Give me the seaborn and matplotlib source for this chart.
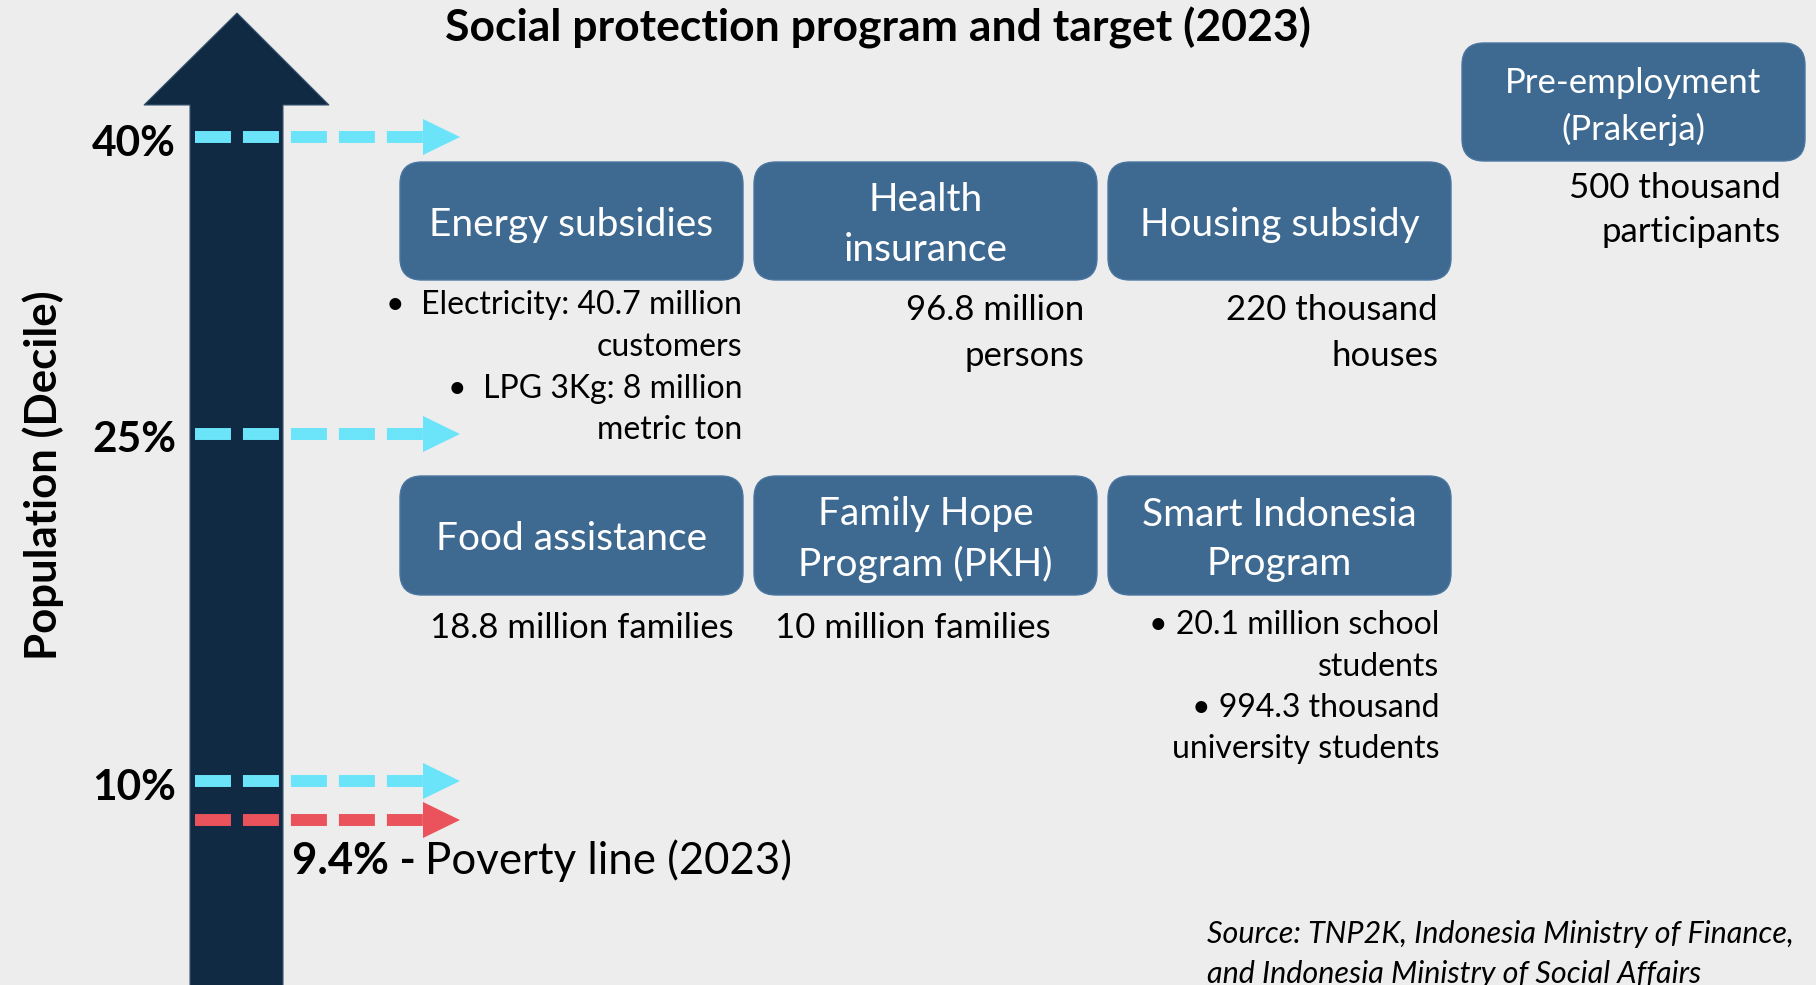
import matplotlib
matplotlib.use("Agg")
import matplotlib.pyplot as plt
from matplotlib.patches import FancyBboxPatch, Polygon
import seaborn as sns
import pandas as pd

# ---------------- data ----------------
title = "Social protection program and target (2023)"
axis_label = "Population (Decile)"
decile_labels = ["40%", "25%", "10%"]
poverty_value = "9.4% -"
poverty_label = "Poverty line (2023)"
programs = ["Energy subsidies", "Health\ninsurance", "Housing subsidy",
            "Food assistance", "Family Hope\nProgram (PKH)", "Smart Indonesia\nProgram",
            "Pre-employment\n(Prakerja)"]
targets = [
    ["•  Electricity: 40.7 million", "customers", "•  LPG 3Kg: 8 million", "metric ton"],
    ["96.8 million", "persons"],
    ["220 thousand", "houses"],
    ["18.8 million families"],
    ["10 million families"],
    ["• 20.1 million school", "students", "• 994.3 thousand", "university students"],
    ["500 thousand", "participants"],
]
source_lines = ["Source: TNP2K, Indonesia Ministry of Finance,",
                "and Indonesia Ministry of Social Affairs"]

# ---------------- layout (pixels) ----------------
W, H = 1816, 985
BG = "#EDEDED"
BOX = "#3E6A91"
DARK = "#102A43"
CYAN = "#6BE4FA"
RED = "#EA535B"

box_x = [400, 754, 1108, 400, 754, 1108, 1462]
box_y = [162, 162, 162, 476, 476, 476, 43]
box_w = 343
box_h = [118, 118, 118, 119, 119, 119, 118]
box_line_gap = [50, 50, 50, 50, 50, 50, 46]
box_fs = [28, 28, 28, 28, 28, 28, 25]
box_text_dy = 4

tgt_anchor = [("right", 742), ("right", 1084), ("right", 1438), ("center", 582),
              ("center", 913), ("right", 1439), ("right", 1781)]
tgt_y0 = [305.5, 310.5, 310.5, 627.5, 627.5, 625.5, 187.5]
tgt_gap = [41.5, 46, 46, 0, 0, 41.3, 45]
tgt_fs = [23, 25, 25, 25, 25, 23, 25]

level_y = [137, 434, 781]
poverty_y = 820
label_y = [144.5, 440.5, 788.5]

sns.set_theme(style="white", rc={"axes.facecolor": BG, "figure.facecolor": BG,
                                 "lines.scale_dashes": False})
plt.rcParams["font.family"] = ["Lato", "DejaVu Sans"]

fig = plt.figure(figsize=(W / 100, H / 100), dpi=100)
ax = fig.add_axes([0, 0, 1, 1])

# big dark arrow
ax.add_patch(Polygon([(190, H + 5), (190, 105), (144, 105), (237, 13), (329, 105),
                      (283, 105), (283, H + 5)], closed=True, facecolor=DARK,
                     edgecolor="#3a5670", linewidth=0.8))

# dashed arrows
def dashed_arrow(y, color):
    df = pd.DataFrame({"x": [195, 423], "y": [y, y]})
    sns.lineplot(data=df, x="x", y="y", ax=ax, color=color, linewidth=8.6,
                 linestyle=(0, (25.9, 8.64)), legend=False)
    ax.add_patch(Polygon([(423, y - 18), (460, y), (423, y + 18)], closed=True,
                         facecolor=color, edgecolor="none"))

for y in level_y:
    dashed_arrow(y, CYAN)
dashed_arrow(poverty_y, RED)
ax.set_xlim(0, W)
ax.set_ylim(H, 0)
ax.axis("off")

for lab, y in zip(decile_labels, label_y):
    ax.text(176, y, lab, ha="right", va="center", fontsize=30.5, fontweight="bold", color="black")

t1 = ax.text(292, 861, poverty_value, ha="left", va="center", fontsize=31.5,
             fontweight="bold", color="black")
fig.canvas.draw()
bb = t1.get_window_extent(renderer=fig.canvas.get_renderer())
ax.text(bb.x1 + 9, 861, poverty_label, ha="left", va="center", fontsize=31.5, color="black")

ax.text(43, 475, axis_label, rotation=90, ha="center", va="center", fontsize=31.5,
        fontweight="bold", color="black")

ax.text(878, 28, title, ha="center", va="center", fontsize=32, fontweight="bold", color="black")

# program boxes
for i, name in enumerate(programs):
    ax.add_patch(FancyBboxPatch((box_x[i], box_y[i]), box_w, box_h[i],
                                boxstyle="round,pad=0,rounding_size=22",
                                facecolor=BOX, edgecolor="#4a76a0", linewidth=1))
    lines = name.split("\n")
    cx = box_x[i] + box_w / 2
    cy = box_y[i] + box_h[i] / 2 + box_text_dy
    n = len(lines)
    for k, ln in enumerate(lines):
        yy = cy + (k - (n - 1) / 2) * box_line_gap[i]
        ax.text(cx, yy, ln, ha="center", va="center", fontsize=box_fs[i], color="white")
    ha, x = tgt_anchor[i]
    for k, ln in enumerate(targets[i]):
        ax.text(x, tgt_y0[i] + k * tgt_gap[i], ln, ha=ha, va="center", fontsize=tgt_fs[i],
                color="black")

for k, ln in enumerate(source_lines):
    ax.text(1207, 934 + k * 40, ln, ha="left", va="center", fontsize=22,
            style="italic", color="black")

fig.savefig("out.png", dpi=100, facecolor=BG)
